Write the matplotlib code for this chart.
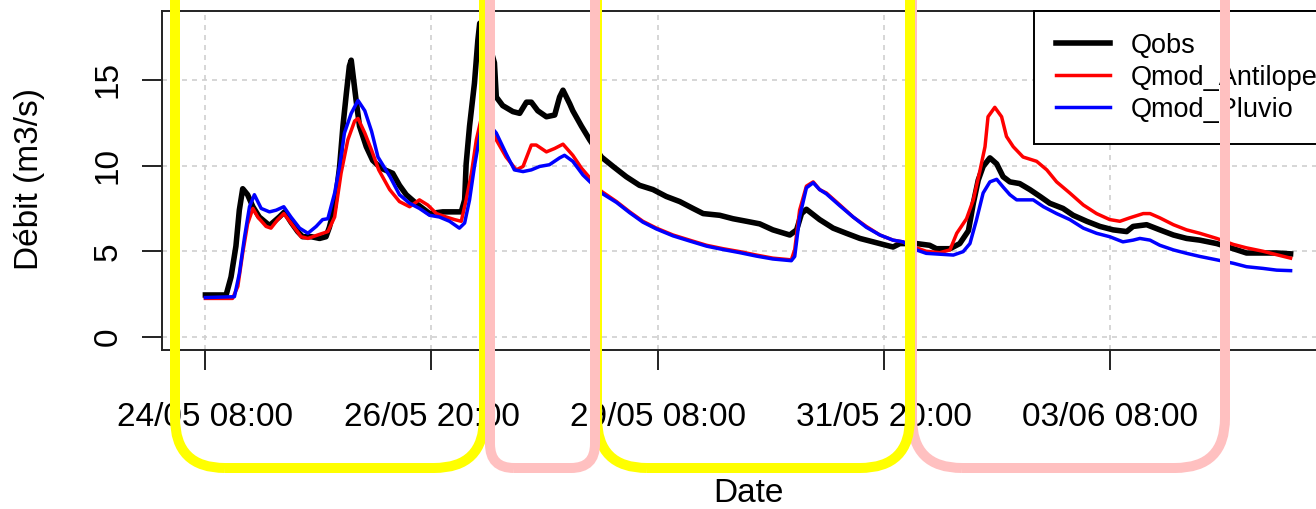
import matplotlib
matplotlib.use("Agg")
import matplotlib.pyplot as plt
from matplotlib.patches import FancyBboxPatch
from matplotlib.transforms import IdentityTransform

plt.rcParams['font.family'] = ['Liberation Sans', 'DejaVu Sans']

# ---------------- data (time in hours since 24/05 08:00) ----------------
qobs_t = [0, 5.5, 6.8, 8.1, 9.0, 9.9, 11.2, 12.6, 14.3, 17.0, 19.6, 21.0, 22.7, 24.5, 25.8,
          28.1, 30.3, 32.0, 32.9, 34.3, 35.6, 36.5, 37.4, 38.2, 38.7, 40.0, 40.9, 42.7, 44.4,
          46.6, 49.7, 51.5, 53.3, 55.9, 59.5, 63.0, 67.9, 68.8, 69.2, 70.1, 71.4, 72.3, 72.8,
          73.5, 75.0, 76.7, 77.2, 78.9, 81.6, 83.4, 85.2, 86.5, 88.2, 90.5, 92.7, 94.0, 94.9,
          96.7, 97.5, 99.8, 102.0, 105.1, 108.2, 111.7, 115.2, 118.8, 122.3, 125.9, 129.4,
          132.1, 136.5, 140.0, 143.6, 147.1, 150.6, 155.1, 156.9, 158.2, 159.5, 163.0, 166.6,
          170.1, 173.7, 177.2, 180.7, 182.5, 184.3, 188.7, 192.2, 194.0, 197.6, 200.2, 202.5,
          203.8, 205.1, 206.4, 208.2, 210.0, 211.7, 213.5, 216.1, 218.8, 221.5, 224.1, 227.6,
          230.3, 233.9, 237.4, 240.9, 244.5, 246.2, 249.8, 253.3, 256.9, 260.4, 263.9, 268.4,
          272.8, 276.3, 280.7, 284.3, 288.0]
qobs_v = [2.45, 2.45, 3.5, 5.3, 7.4, 8.65, 8.3, 7.6, 7.0, 6.5, 7.0, 7.3, 6.7, 6.15, 5.85,
          5.85, 5.75, 5.85, 6.4, 7.6, 9.9, 12.3, 14.2, 15.8, 16.15, 13.8, 12.3, 11.1, 10.3,
          9.85, 9.55, 8.85, 8.3, 7.8, 7.2, 7.3, 7.3, 8.0, 10.1, 12.3, 14.8, 17.3, 18.3,
          18.4, 17.3, 16.0, 14.0, 13.5, 13.15, 13.05, 13.7, 13.7, 13.2, 12.85, 12.95, 14.0, 14.4,
          13.6, 13.2, 12.3, 11.5, 10.5, 9.95, 9.35, 8.85, 8.6, 8.2, 7.9, 7.5,
          7.2, 7.1, 6.9, 6.75, 6.6, 6.25, 5.95, 6.25, 7.2, 7.45, 6.85, 6.35,
          6.05, 5.75, 5.55, 5.35, 5.25, 5.45, 5.45, 5.35, 5.15, 5.15, 5.45, 6.2,
          7.8, 9.15, 9.95, 10.45, 10.1, 9.35, 9.05, 8.95, 8.6, 8.2, 7.8, 7.5,
          7.1, 6.75, 6.45, 6.25, 6.15, 6.45, 6.55, 6.25, 5.95, 5.75, 5.65, 5.45,
          5.15, 4.9, 4.9, 4.9, 4.85]

antilope_t = [0, 7.2, 8.6, 9.9, 11.2, 12.6, 13.9, 16.1, 17.4, 19.2, 20.8, 22.7, 25.4, 27.2,
              29.8, 32.5, 34.3, 36.0, 37.8, 39.6, 40.5, 42.3, 44.1, 46.0, 48.9, 51.5, 54.2,
              56.8, 59.0, 61.3, 63.9, 66.1, 67.9, 69.2, 70.6, 71.9, 73.2, 74.5, 77.2, 79.8,
              82.5, 84.3, 86.5, 87.8, 90.5, 92.7, 94.9, 97.5, 99.8, 105.1, 109.1, 112.6, 116.1,
              119.7, 124.1, 128.5, 133.0, 137.4, 141.8, 146.2, 150.6, 155.5, 156.4, 157.7,
              159.5, 161.3, 163.0, 164.8, 168.4, 171.9, 175.4, 179.0, 182.5, 185.1, 188.7,
              191.3, 194.9, 197.6, 199.4, 202.0, 203.8, 205.6, 206.9, 207.7, 209.5, 211.3,
              212.6, 214.4, 217.0, 220.6, 223.3, 225.9, 229.4, 233.0, 236.5, 240.0, 242.7,
              245.3, 248.9, 250.7, 253.3, 256.9, 260.4, 263.9, 268.4, 272.8, 276.3, 280.7,
              284.3, 288.0]
antilope_v = [2.25, 2.25, 2.95, 4.9, 6.6, 7.5, 7.0, 6.45, 6.35, 6.85, 7.2, 6.65, 5.85, 5.75,
              5.95, 6.15, 7.0, 9.55, 11.5, 12.6, 12.75, 11.9, 10.9, 9.75, 8.6, 7.9, 7.6,
              8.0, 7.7, 7.2, 7.0, 6.85, 6.75, 8.0, 9.55, 11.5, 12.75, 12.6, 11.5, 10.5,
              9.75, 9.95, 11.2, 11.2, 10.8, 11.0, 11.25, 10.6, 9.85, 8.5, 7.9, 7.3, 6.75,
              6.35, 5.95, 5.65, 5.35, 5.15, 4.98, 4.78, 4.6, 4.5, 5.1, 7.4,
              8.8, 9.05, 8.6, 8.4, 7.7, 7.0, 6.45, 5.95, 5.65, 5.55, 5.2,
              5.0, 4.92, 5.08, 6.05, 6.9, 8.0, 9.75, 11.1, 12.85, 13.4, 12.85,
              11.7, 11.1, 10.5, 10.25, 9.75, 9.05, 8.4, 7.7, 7.2, 6.85, 6.75,
              6.95, 7.2, 7.2, 6.95, 6.55, 6.25, 6.05, 5.75, 5.4, 5.2, 5.0,
              4.8, 4.6]

pluvio_t = [0, 7.7, 9.0, 10.4, 11.7, 13.0, 14.8, 17.0, 18.8, 20.8, 22.7, 25.0, 27.2, 29.4,
            31.1, 32.5, 34.3, 35.6, 36.9, 38.7, 40.5, 42.3, 44.1, 45.8, 47.6, 49.0, 51.5,
            54.2, 56.8, 59.5, 62.1, 64.8, 67.4, 68.8, 70.1, 71.4, 72.8, 73.6, 74.5, 77.2,
            79.8, 82.0, 84.3, 86.5, 88.7, 91.3, 94.0, 95.3, 97.5, 100.2, 105.1, 109.1, 112.6,
            116.1, 119.7, 124.1, 128.5, 133.0, 137.4, 141.8, 146.2, 150.6, 155.5, 156.4,
            157.7, 159.5, 161.3, 163.0, 164.8, 168.4, 171.9, 175.4, 179.0, 182.5, 185.1,
            188.7, 191.3, 198.5, 201.1, 202.9, 204.6, 206.4, 208.2, 210.0, 211.7, 213.5,
            215.3, 219.7, 222.4, 225.9, 229.4, 233.0, 236.5, 240.0, 243.5, 246.2, 248.0,
            250.7, 253.3, 256.9, 260.4, 263.9, 268.4, 272.8, 276.3, 280.7, 284.3, 288.0]
pluvio_v = [2.3, 2.35, 3.7, 5.85, 7.6, 8.3, 7.5, 7.3, 7.4, 7.6, 7.0, 6.35, 6.05, 6.45,
            6.85, 6.9, 8.4, 9.95, 11.9, 13.05, 13.8, 13.2, 12.0, 10.5, 9.85, 9.35, 8.3,
            7.8, 7.5, 7.1, 7.0, 6.75, 6.35, 6.65, 8.0, 9.95, 11.7, 12.65, 12.6, 11.9,
            10.7, 9.75, 9.65, 9.75, 9.95, 10.05, 10.45, 10.6, 10.25, 9.45, 8.4, 7.85, 7.25,
            6.7, 6.3, 5.9, 5.6, 5.3, 5.1, 4.92, 4.72, 4.55, 4.45, 4.7,
            7.0, 8.7, 9.0, 8.6, 8.35, 7.65, 7.0, 6.4, 5.95, 5.65, 5.55,
            5.08, 4.88, 4.78, 4.98, 5.45, 6.8, 8.4, 9.05, 9.2, 8.75, 8.3,
            8.0, 8.0, 7.6, 7.2, 6.85, 6.35, 6.05, 5.85, 5.55, 5.65, 5.75,
            5.65, 5.35, 5.08, 4.88, 4.7, 4.5, 4.3, 4.1, 4.0, 3.9, 3.87]

series_names = ["Qobs", "Qmod_Antilope", "Qmod_Pluvio"]
tick_hours = [0, 60, 120, 180, 240]
tick_labels = ["24/05 08:00", "26/05 20:00", "29/05 08:00", "31/05 20:00", "03/06 08:00"]
ytick_values = [0, 5, 10, 15]

# ---------------- figure ----------------
W, H = 1316, 509
fig = plt.figure(figsize=(W / 100, H / 100), dpi=100)
fig.patch.set_facecolor("white")
ax = fig.add_axes([162 / W, 1 - 350 / H, (1334 - 162) / W, (350 - 11) / H])

t_end = max(qobs_t)
ext = 0.04 * t_end
ax.set_xlim(-ext, t_end + ext)
ax.set_ylim(-0.76, 19.02)

grid_kw = dict(color="#cfcfcf", lw=1.2, ls=(0, (3, 3)), zorder=0)
for xt in tick_hours:
    ax.axvline(xt, **grid_kw)
for yt in ytick_values:
    ax.axhline(yt, **grid_kw)

ax.plot(qobs_t, qobs_v, color="black", lw=4.0, label=series_names[0], zorder=2)
ax.plot(antilope_t, antilope_v, color="#ff0000", lw=2.5, label=series_names[1], zorder=3)
ax.plot(pluvio_t, pluvio_v, color="#0000ff", lw=2.5, label=series_names[2], zorder=4)

ax.set_xticks(tick_hours)
ax.set_xticklabels(tick_labels)
ax.set_yticks(ytick_values)
ax.set_yticklabels([str(v) for v in ytick_values], rotation=90, va="center")
ax.tick_params(axis="x", length=14.4, width=1.4, pad=23, labelsize=24, color="#222222")
ax.tick_params(axis="y", length=14.4, width=1.4, pad=13, labelsize=24, color="#222222")
for s in ax.spines.values():
    s.set_linewidth(1.4)
    s.set_color("#222222")

ax.set_xlabel("Date", fontsize=24, va="center")
ax.xaxis.set_label_coords(0.5, (350 - 493) / 339)
ax.set_ylabel("Débit (m3/s)", fontsize=24, va="center")
ax.yaxis.set_label_coords((30 - 162) / 1172, (350 - 178.5) / 339)

leg = ax.legend(loc="upper left", bbox_to_anchor=(1034 / W, 1 - 11 / H),
                bbox_transform=fig.transFigure, borderaxespad=0, fontsize=19.5,
                frameon=True, fancybox=False, edgecolor="black", framealpha=1,
                borderpad=0.8, handlelength=2.0, handletextpad=0.78, labelspacing=0.22)
leg.get_frame().set_linewidth(1.4)

# ---------------- highlight frames (pixel coordinates) ----------------
def frame(x0, x1, y_bottom, r, color):
    yb = H - y_bottom
    p = FancyBboxPatch((x0, yb), x1 - x0, 800, boxstyle=f"round,pad=0,rounding_size={r}",
                       transform=IdentityTransform(), fill=False, edgecolor=color,
                       lw=7.2, clip_on=False, zorder=10)
    fig.add_artist(p)

pink = "#ffc0c0"
yellow = "#ffff00"
frame(912, 1225, 468, 50, pink)
frame(175, 484, 468, 50, yellow)
frame(597, 910, 468, 50, yellow)
frame(490, 595, 468, 24, pink)

fig.savefig("out.png", dpi=100)
